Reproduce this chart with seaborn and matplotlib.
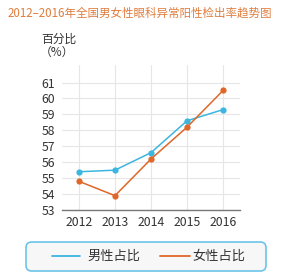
import matplotlib
matplotlib.use("Agg")
import matplotlib.pyplot as plt
import seaborn as sns
import pandas as pd
from matplotlib.patches import FancyBboxPatch
from matplotlib.lines import Line2D

years = [2012, 2013, 2014, 2015, 2016]
male = [55.4, 55.5, 56.6, 58.6, 59.3]
female = [54.8, 53.9, 56.2, 58.2, 60.5]
series_names = ["男性占比", "女性占比"]
title = "2012–2016年全国男女性眼科异常阳性检出率趋势图"
yticks = [53, 54, 55, 56, 57, 58, 59, 60, 61]

male_color = "#3cb6e0"
female_color = "#e0672a"

sns.set_theme(style="white")
plt.rcParams["font.family"] = ["Noto Sans CJK SC", "DejaVu Sans"]

df = pd.DataFrame({"year": years * 2,
                   "value": male + female,
                   "series": [series_names[0]] * 5 + [series_names[1]] * 5})

fig = plt.figure(figsize=(2.88, 2.80), dpi=100)
ax = fig.add_axes([62 / 288, 1 - 210 / 280, (240 - 62) / 288, (210 - 65) / 280])

sns.lineplot(data=df, x="year", y="value", hue="series",
             palette=[male_color, female_color], marker="o", markersize=4.5,
             markeredgewidth=0, linewidth=1.1, ax=ax, legend=False)

ax.set_xlim(2011.53, 2016.47)
ax.set_ylim(53, 62.1)
ax.set_xticks(years)
ax.set_yticks(yticks)
ax.set_xlabel("")
ax.set_ylabel("")
ax.grid(True, color="#e6e6e6", linewidth=0.8)
ax.set_axisbelow(True)
for s in ["top", "right", "left"]:
    ax.spines[s].set_visible(False)
ax.spines["bottom"].set_color("#777777")
ax.spines["bottom"].set_linewidth(1.0)
ax.tick_params(axis="both", length=0, labelsize=8.8, colors="#333333")
ax.tick_params(axis="x", pad=4)
ax.tick_params(axis="y", pad=5)

fig.text(0.485, 1 - 13 / 280, title, ha="center", va="center", fontsize=8.3, color="#e07d3e")
fig.text(59 / 288, 1 - 39 / 280, "百分比", ha="center", va="center", fontsize=8.5, color="#333333")
fig.text(57 / 288, 1 - 52 / 280, "（%）", ha="center", va="center", fontsize=8.5, color="#333333")

# legend box
box = FancyBboxPatch((26 / 288, 1 - 271 / 280), (266 - 26) / 288, (271 - 242) / 280,
                     boxstyle="round,pad=0,rounding_size=0.02", transform=fig.transFigure,
                     facecolor="#f7f7f7", edgecolor="#6cc4ea", linewidth=1.2)
fig.patches.append(box)
ly = 1 - 256 / 280
fig.lines.append(Line2D([52 / 288, 80 / 288], [ly, ly], color=male_color, linewidth=1.3,
                        transform=fig.transFigure))
fig.text(87 / 288, ly, series_names[0], ha="left", va="center", fontsize=9.5, color="#333333")
fig.lines.append(Line2D([160 / 288, 190 / 288], [ly, ly], color=female_color, linewidth=1.3,
                        transform=fig.transFigure))
fig.text(192 / 288, ly, series_names[1], ha="left", va="center", fontsize=9.5, color="#333333")

fig.savefig("out.png", dpi=100, facecolor="white")
